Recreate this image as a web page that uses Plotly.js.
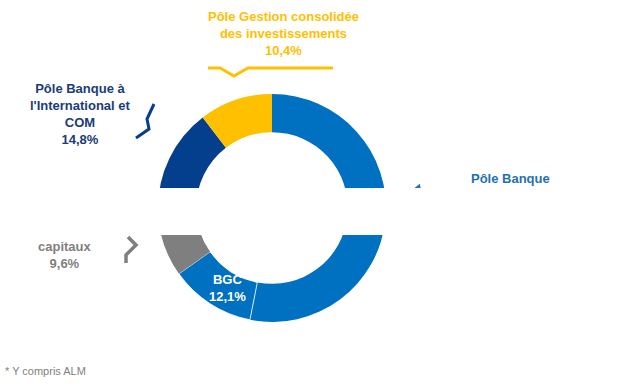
<!DOCTYPE html>
<html>
<head>
<meta charset="utf-8">
<script src="https://cdn.plot.ly/plotly-3.0.1.min.js"></script>
<style>
html,body{margin:0;padding:0;background:#fff;}
#chart{width:622px;height:387px;}
</style>
</head>
<body>
<div id="chart"></div>
<script>
// ---- data ----
const categories = ["Pôle Banque", "BGC", "Pôle Marchés de capitaux", "Pôle Banque à l'International et COM", "Pôle Gestion consolidée des investissements"];
const shares = [53.1, 12.1, 9.6, 14.8, 10.4];
const shareLabels = ["53,1%", "12,1%", "9,6%", "14,8%", "10,4%"];
const visibleNames = ["Pôle Banque", "BGC", "capitaux", "Pôle Banque à<br>l'International et<br>COM", "Pôle Gestion consolidée<br>des investissements"];
const sliceColors = ["#0070C0", "#0070C0", "#7F7F7F", "#033F8C", "#FFC000"];
const footnote = "* Y compris ALM";

// ---- layout helpers (pixel -> paper) ----
const W = 622, H = 387;
const px = x => x / W;
const py = y => 1 - y / H;
const cx = 272, cy = 208, R = 114;
function path(pts){ return pts.map((p,i)=>(i?"L":"M")+px(p[0]).toFixed(5)+","+py(p[1]).toFixed(5)).join(" "); }

const font = "'Liberation Sans Narrow', 'Arial Narrow', 'Liberation Sans', sans-serif";

const trace = {
  type: "pie",
  values: shares,
  labels: categories,
  sort: false,
  direction: "clockwise",
  rotation: 0,
  hole: 0.665,
  textinfo: "none",
  hoverinfo: "none",
  showlegend: false,
  marker: {colors: sliceColors, line: {color: "#ffffff", width: [0, 0.8, 0, 0, 0]}},
  domain: {x: [px(cx - R), px(cx + R)], y: [py(cy + R), py(cy - R)]}
};

const annotations = [
  {x: px(283), y: py(33), text: "<b>" + visibleNames[4] + "<br>" + shareLabels[4] + "</b>", color: sliceColors[4]},
  {x: px(80), y: py(114), text: "<b>" + visibleNames[3] + "<br>" + shareLabels[3] + "</b>", color: "#1A3C78"},
  {x: px(510), y: py(178), text: "<b>" + visibleNames[0] + "</b>", color: "#1F6FB8"},
  {x: px(65), y: py(255), text: "<b>" + visibleNames[2] + "<br>" + shareLabels[2] + "</b>", color: "#7F7F7F"},
  {x: px(227), y: py(288), text: "<b>" + visibleNames[1] + "<br>" + shareLabels[1] + "</b>", color: "#ffffff"}
].map(a => ({
  xref: "paper", yref: "paper", x: a.x, y: a.y, xanchor: "center", yanchor: "middle",
  text: a.text, showarrow: false, align: "center",
  font: {family: font, size: 13, color: a.color}
}));
annotations.push({
  xref: "paper", yref: "paper", x: px(3), y: py(371), xanchor: "left", yanchor: "middle",
  text: footnote, showarrow: false, font: {family: font, size: 11, color: "#7F7F7F"}
});

const shapes = [
  {type: "path", xref: "paper", yref: "paper", path: path([[208,68],[220,68],[234,76],[248,68],[333,68]]), line: {color: "#FFC000", width: 3}},
  {type: "path", xref: "paper", yref: "paper", path: path([[154,104],[147,119],[149,129],[136,138]]), line: {color: "#033F8C", width: 3}},
  {type: "path", xref: "paper", yref: "paper", path: path([[128,237],[136,245],[126,255],[126,263]]), line: {color: "#7F7F7F", width: 3.5}},
  {type: "path", xref: "paper", yref: "paper", path: path([[414,190],[419,186],[420,192]]), line: {color: "#1F6FB8", width: 2.5}},
  {type: "rect", xref: "paper", yref: "paper", layer: "above", x0: 0, x1: 1, y0: py(235), y1: py(188), fillcolor: "#ffffff", line: {width: 0}}
];

const layout = {
  width: W, height: H,
  margin: {l: 0, r: 0, t: 0, b: 0},
  paper_bgcolor: "#ffffff",
  annotations: annotations,
  shapes: shapes
};

Plotly.newPlot("chart", [trace], layout, {displayModeBar: false, staticPlot: true});
</script>
</body>
</html>
